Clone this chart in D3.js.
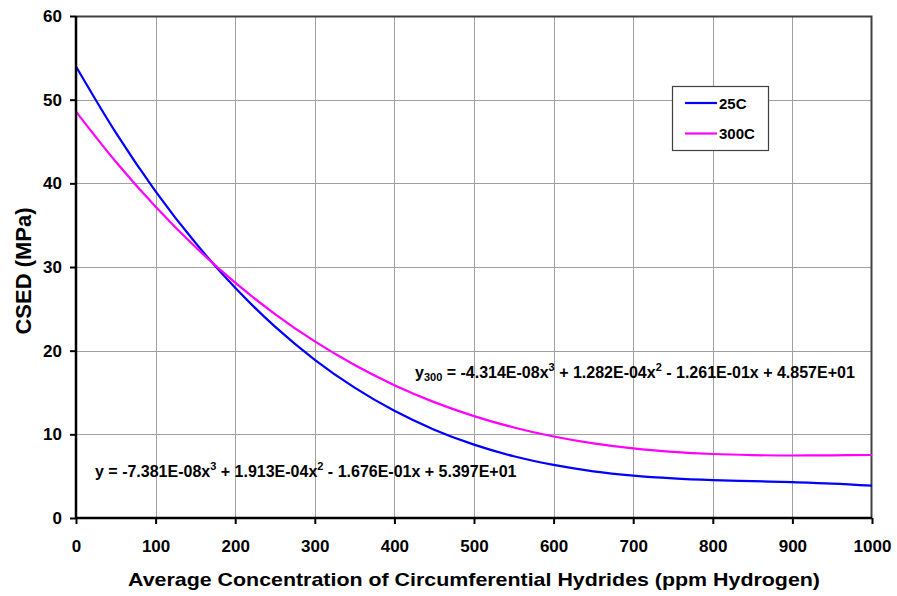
<!DOCTYPE html>
<html>
<head>
<meta charset="utf-8">
<script src="https://cdn.jsdelivr.net/npm/d3@7"></script>
<style>
  html, body { margin: 0; padding: 0; background: #fff; }
  svg { display: block; font-family: Arial, "Liberation Sans", sans-serif; }
</style>
</head>
<body>
<svg id="chart" width="897" height="596"></svg>
<script>
// Hydride concentration (ppm H) sample points
const concentration = [0, 50, 100, 150, 200, 250, 300, 350, 400, 450, 500,
                       550, 600, 650, 700, 750, 800, 850, 900, 950, 1000];
// CSED (MPa) at 25C
const csed25 = [53.97, 46.06, 39.05, 32.89, 27.51, 22.87, 18.91, 15.58, 12.81, 10.56, 8.77,
                7.38, 6.34, 5.58, 5.07, 4.74, 4.53, 4.40, 4.28, 4.12, 3.86];
// CSED (MPa) at 300C
const csed300 = [48.57, 42.58, 37.20, 32.39, 28.13, 24.38, 21.11, 18.29, 15.88, 13.85, 12.18,
                 10.82, 9.74, 8.92, 8.32, 7.91, 7.65, 7.52, 7.47, 7.49, 7.53];

const seriesNames = ["25C", "300C"];
const seriesColors = ["#0000ff", "#ff00ff"];
const xTicks = [0, 100, 200, 300, 400, 500, 600, 700, 800, 900, 1000];
const yTicks = [0, 10, 20, 30, 40, 50, 60];

const svg = d3.select("#chart");
const plot = { left: 76, top: 16, right: 872, bottom: 518 };

const x = d3.scaleLinear().domain([0, 1000]).range([plot.left, plot.right]);
const y = d3.scaleLinear().domain([0, 60]).range([plot.bottom, plot.top]);

// grid lines
const grid = svg.append("g").attr("stroke", "#a0a0a0").attr("stroke-width", 1);
grid.selectAll("line.gx").data(xTicks.slice(1, -1)).join("line")
  .attr("x1", d => Math.round(x(d)) + 0.5).attr("x2", d => Math.round(x(d)) + 0.5)
  .attr("y1", plot.top).attr("y2", plot.bottom);
grid.selectAll("line.gy").data(yTicks.slice(1, -1)).join("line")
  .attr("y1", d => Math.round(y(d)) + 0.5).attr("y2", d => Math.round(y(d)) + 0.5)
  .attr("x1", plot.left).attr("x2", plot.right);

// top and right frame
svg.append("path")
  .attr("d", `M${plot.left},${plot.top + 0.5}H${plot.right - 0.5}V${plot.bottom}`)
  .attr("fill", "none").attr("stroke", "#404040").attr("stroke-width", 2);

// curves
const line = d3.line().x((d, i) => x(concentration[i])).y(d => y(d)).curve(d3.curveMonotoneX);
[csed25, csed300].forEach((s, k) => {
  svg.append("path").datum(s).attr("d", line)
    .attr("fill", "none").attr("stroke", seriesColors[k]).attr("stroke-width", 2.2);
});

// axes
const xAxis = svg.append("g").attr("transform", `translate(0,${plot.bottom})`)
  .call(d3.axisBottom(x).tickValues(xTicks).tickSize(6).tickPadding(16).tickFormat(d3.format("d")));
const yAxis = svg.append("g").attr("transform", `translate(${plot.left},0)`)
  .call(d3.axisLeft(y).tickValues(yTicks).tickSize(6).tickPadding(8).tickFormat(d3.format("d")));
[xAxis, yAxis].forEach(a => {
  a.select(".domain").attr("stroke", "#000").attr("stroke-width", 2.5);
  a.selectAll(".tick line").attr("stroke", "#000").attr("stroke-width", 2);
  a.selectAll(".tick text").attr("fill", "#000")
    .style("font-size", "17px").style("font-weight", "bold")
    .style("font-family", "Arial, 'Liberation Sans', sans-serif");
});
xAxis.select(".domain").attr("d", `M${plot.left},0H${plot.right}`);
yAxis.select(".domain").attr("d", `M0,${plot.bottom}V${plot.top}`);

// axis titles
svg.append("text").attr("x", 474).attr("y", 586)
  .attr("text-anchor", "middle").style("font-size", "18.5px").style("font-weight", "bold")
  .attr("textLength", 692).attr("lengthAdjust", "spacingAndGlyphs")
  .text("Average Concentration of Circumferential Hydrides (ppm Hydrogen)");
svg.append("text").attr("transform", "translate(31,271) rotate(-90)")
  .attr("text-anchor", "middle").style("font-size", "22px").style("font-weight", "bold")
  .text("CSED (MPa)");

// legend
const lg = svg.append("g");
lg.append("rect").attr("x", 672.5).attr("y", 86.5).attr("width", 96).attr("height", 64)
  .attr("fill", "#fff").attr("stroke", "#404040").attr("stroke-width", 1.2);
seriesNames.forEach((n, k) => {
  const yy = 103 + k * 30.5;
  lg.append("line").attr("x1", 685).attr("x2", 717).attr("y1", yy).attr("y2", yy)
    .attr("stroke", seriesColors[k]).attr("stroke-width", 2.2);
  lg.append("text").attr("x", 719).attr("y", yy + 5.5)
    .style("font-size", "15px").style("font-weight", "bold").text(n);
});

// fitted equations
function equation(tx, ty, sub, terms) {
  const t = svg.append("text").attr("x", tx).attr("y", ty)
    .style("font-size", "16px").style("font-weight", "bold");
  t.append("tspan").text("y");
  if (sub) t.append("tspan").attr("dy", 3).style("font-size", "11px").text(sub);
  t.append("tspan").attr("dy", sub ? -3 : 0).text(" = " + terms[0] + "x");
  t.append("tspan").attr("dy", -7).style("font-size", "11px").text("3");
  t.append("tspan").attr("dy", 7).text(" + " + terms[1] + "x");
  t.append("tspan").attr("dy", -7).style("font-size", "11px").text("2");
  t.append("tspan").attr("dy", 7).text(" - " + terms[2] + "x + " + terms[3]);
}
equation(415, 378, "300", ["-4.314E-08", "1.282E-04", "1.261E-01", "4.857E+01"]);
equation(95, 477, null, ["-7.381E-08", "1.913E-04", "1.676E-01", "5.397E+01"]);
</script>
</body>
</html>
